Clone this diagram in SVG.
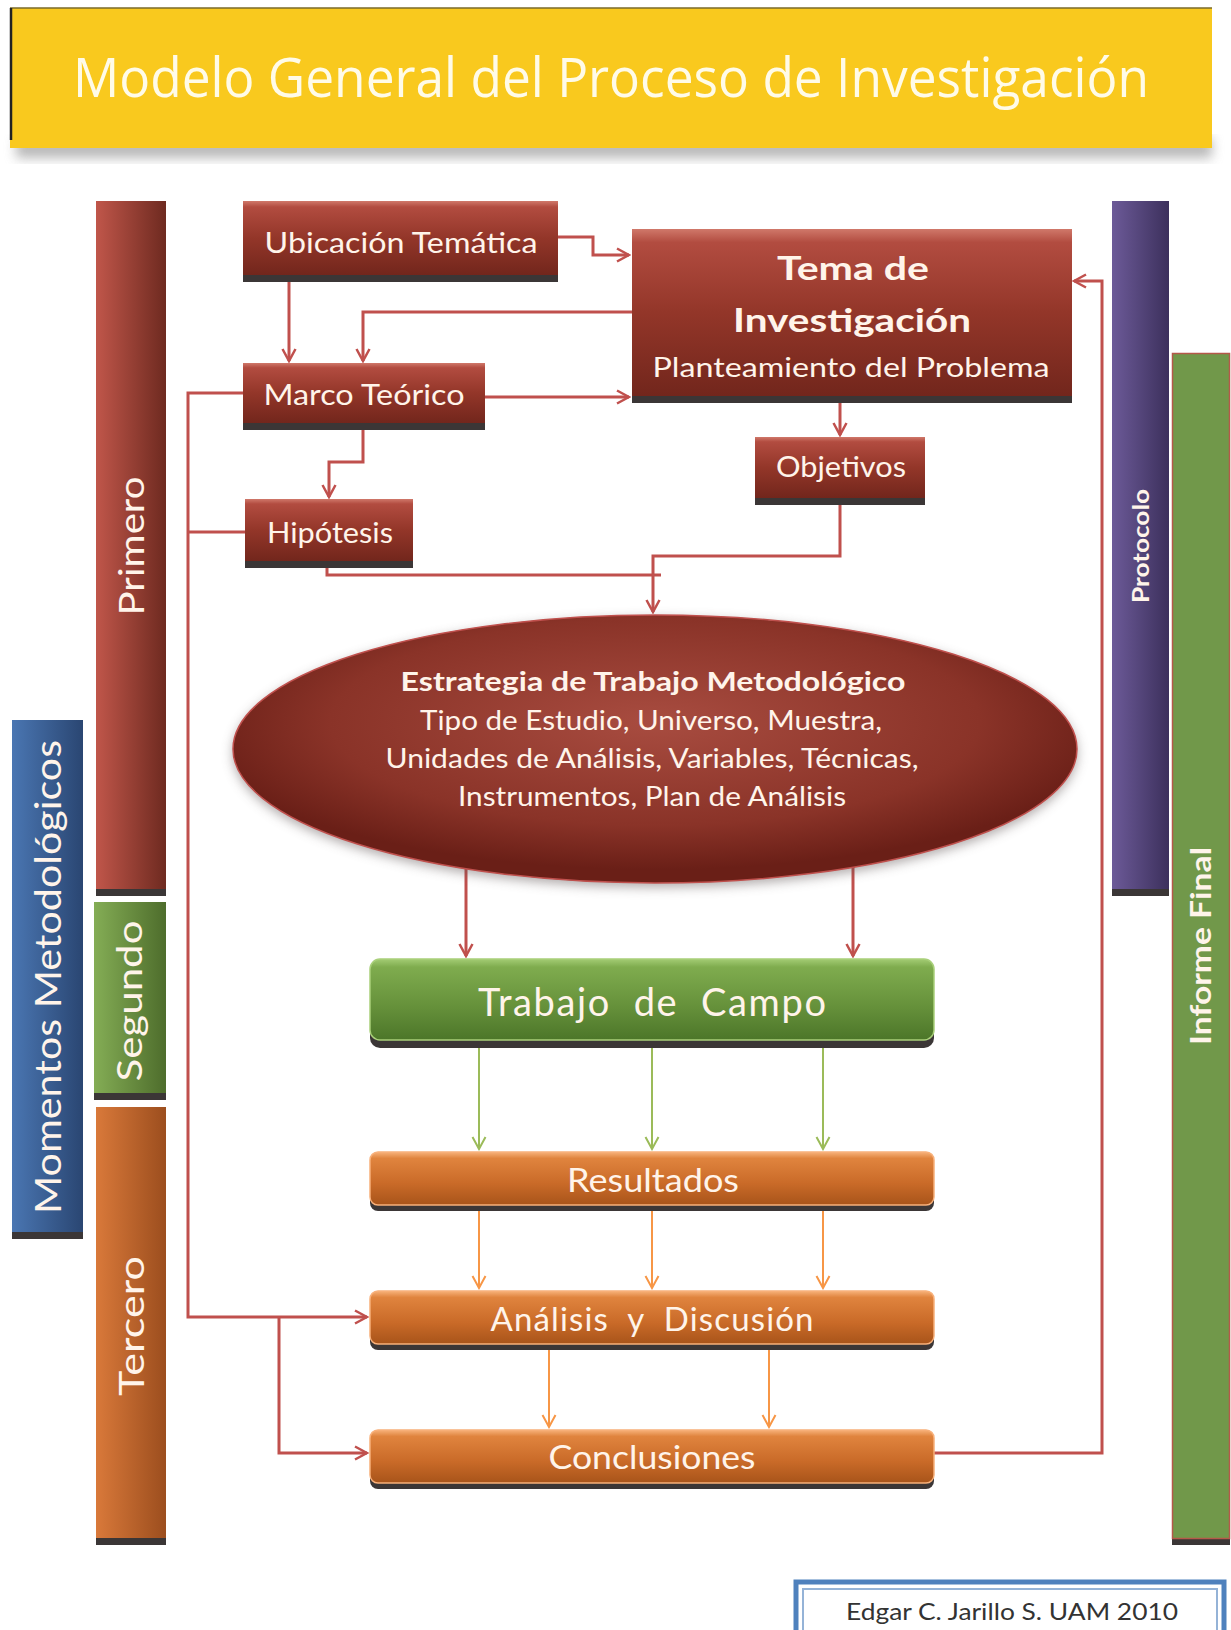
<svg xmlns="http://www.w3.org/2000/svg" width="1231" height="1630" viewBox="0 0 1231 1630">
<style>
.t{font-family:Lato,"Open Sans","Liberation Sans",sans-serif;fill:#fff4ea;text-anchor:middle}
.b{font-weight:bold}
.pre{white-space:pre}
.c{fill:none;stroke:#c0504d;stroke-width:3}
.cg{fill:none;stroke:#9bbb59;stroke-width:2}
.co{fill:none;stroke:#f79646;stroke-width:2}
.sh{fill:#3b3636}
</style>
<defs>
<linearGradient id="gRed" x1="0" y1="0" x2="0" y2="1">
<stop offset="0" stop-color="#d0786a"/><stop offset="0.08" stop-color="#b24c40"/><stop offset="0.5" stop-color="#933629"/><stop offset="1" stop-color="#72261c"/>
</linearGradient>
<linearGradient id="gGreen" x1="0" y1="0" x2="0" y2="1">
<stop offset="0" stop-color="#a3cc74"/><stop offset="0.1" stop-color="#7fac4e"/><stop offset="0.6" stop-color="#65903a"/><stop offset="1" stop-color="#4c7629"/>
</linearGradient>
<linearGradient id="gOr" x1="0" y1="0" x2="0" y2="1">
<stop offset="0" stop-color="#f7b27a"/><stop offset="0.12" stop-color="#e0843e"/><stop offset="0.6" stop-color="#c96a28"/><stop offset="1" stop-color="#a8541a"/>
</linearGradient>
<linearGradient id="hRed" x1="0" y1="0" x2="1" y2="0">
<stop offset="0" stop-color="#c0564a"/><stop offset="1" stop-color="#6e2a20"/>
</linearGradient>
<linearGradient id="hGreen" x1="0" y1="0" x2="1" y2="0">
<stop offset="0" stop-color="#84ad55"/><stop offset="1" stop-color="#4e6d2c"/>
</linearGradient>
<linearGradient id="hOr" x1="0" y1="0" x2="1" y2="0">
<stop offset="0" stop-color="#d9793a"/><stop offset="1" stop-color="#9c4e1e"/>
</linearGradient>
<linearGradient id="hBlue" x1="0" y1="0" x2="1" y2="0">
<stop offset="0" stop-color="#4a76b2"/><stop offset="1" stop-color="#2a4672"/>
</linearGradient>
<linearGradient id="hPur" x1="0" y1="0" x2="1" y2="0">
<stop offset="0" stop-color="#6c5a98"/><stop offset="1" stop-color="#3c305c"/>
</linearGradient>
<radialGradient id="gEll" cx="0.5" cy="0.4" r="0.55">
<stop offset="0" stop-color="#a84c40"/><stop offset="0.7" stop-color="#8a3328"/><stop offset="1" stop-color="#6a1f17"/>
</radialGradient>
<filter id="blur" x="-5%" y="-20%" width="110%" height="150%"><feGaussianBlur stdDeviation="6"/></filter>
<marker id="ar" viewBox="0 0 16 16" refX="14" refY="8" markerWidth="16" markerHeight="16" orient="auto" markerUnits="userSpaceOnUse"><path d="M2,1.5 L14,8 L2,14.5" fill="none" stroke="#c0504d" stroke-width="2.5"/></marker>
<marker id="ag" viewBox="0 0 16 16" refX="14" refY="8" markerWidth="16" markerHeight="16" orient="auto" markerUnits="userSpaceOnUse"><path d="M2,1.5 L14,8 L2,14.5" fill="none" stroke="#9bbb59" stroke-width="2"/></marker>
<marker id="ao" viewBox="0 0 16 16" refX="14" refY="8" markerWidth="16" markerHeight="16" orient="auto" markerUnits="userSpaceOnUse"><path d="M2,1.5 L14,8 L2,14.5" fill="none" stroke="#f79646" stroke-width="2"/></marker>
</defs>
<rect width="1231" height="1630" fill="#ffffff"/>

<g id="title">
<rect x="16" y="138" width="1196" height="20" fill="#8a8a8a" opacity="0.6" filter="url(#blur)"/>
<rect x="10" y="8" width="1202" height="140" fill="#f9c91e"/>
<line x1="10" y1="8" x2="1212" y2="8" stroke="#7a6a2a" stroke-width="1.5"/>
<line x1="11" y1="8" x2="11" y2="140" stroke="#222" stroke-width="2.5"/>
<text x="611" y="97" font-family="'Open Sans',Lato,sans-serif" font-size="54" fill="#fffbe8" text-anchor="middle" textLength="1076" lengthAdjust="spacingAndGlyphs">Modelo General del Proceso de Investigación</text>
</g>

<g id="momentos">
<rect x="12" y="1232" width="71" height="7" class="sh"/>
<rect x="12" y="720" width="71" height="512" fill="url(#hBlue)"/>
<text class="t" font-size="36" transform="translate(61,977) rotate(-90)" textLength="474" lengthAdjust="spacingAndGlyphs">Momentos Metodológicos</text>
</g>
<g id="primero">
<rect x="96" y="889" width="70" height="7" class="sh"/>
<rect x="96" y="201" width="70" height="688" fill="url(#hRed)"/>
<text class="t" font-size="34" transform="translate(144,546) rotate(-90)" textLength="139" lengthAdjust="spacingAndGlyphs">Primero</text>
</g>
<g id="segundo">
<rect x="94" y="1093" width="72" height="7" class="sh"/>
<rect x="94" y="902" width="72" height="191" fill="url(#hGreen)"/>
<text class="t" font-size="34" transform="translate(142,1001) rotate(-90)" textLength="161" lengthAdjust="spacingAndGlyphs">Segundo</text>
</g>
<g id="tercero">
<rect x="96" y="1538" width="70" height="7" class="sh"/>
<rect x="96" y="1107" width="70" height="431" fill="url(#hOr)"/>
<text class="t" font-size="34" transform="translate(144,1326) rotate(-90)" textLength="140" lengthAdjust="spacingAndGlyphs">Tercero</text>
</g>
<g id="protocolo">
<rect x="1112" y="889" width="57" height="7" class="sh"/>
<rect x="1112" y="201" width="57" height="688" fill="url(#hPur)"/>
<text class="t b" font-size="22" transform="translate(1149,546) rotate(-90)" textLength="114" lengthAdjust="spacingAndGlyphs">Protocolo</text>
</g>
<g id="informe">
<rect x="1172" y="1538" width="58" height="7" class="sh"/>
<rect x="1172.5" y="353.5" width="57" height="1185" fill="#71984a" stroke="#b5584a" stroke-width="1.5"/>
<text class="t b" font-size="28" transform="translate(1211,946) rotate(-90)" textLength="198" lengthAdjust="spacingAndGlyphs">Informe Final</text>
</g>

<g id="connectors">
<path class="c" d="M558,237 H593 V255 H629" marker-end="url(#ar)"/>
<path class="c" d="M289,282 V361" marker-end="url(#ar)"/>
<path class="c" d="M632,312 H363 V361" marker-end="url(#ar)"/>
<path class="c" d="M485,397 H629" marker-end="url(#ar)"/>
<path class="c" d="M840,403 V435" marker-end="url(#ar)"/>
<path class="c" d="M363,430 V462 H329 V497" marker-end="url(#ar)"/>
<path class="c" d="M840,505 V556 H653 V612" marker-end="url(#ar)"/>
<path class="c" d="M327,567 V575 H661"/>
<path class="c" d="M243,393 H188 V1317 H367" marker-end="url(#ar)"/>
<path class="c" d="M246,532 H188"/>
<path class="c" d="M279,1317 V1453 H367" marker-end="url(#ar)"/>
<path class="c" d="M934,1453 H1102 V281 H1074" marker-end="url(#ar)"/>
<path class="c" d="M466,869 V956" stroke-width="2" marker-end="url(#ar)"/>
<path class="c" d="M853,867 V956" stroke-width="2" marker-end="url(#ar)"/>
<path class="cg" d="M479,1048 V1149" marker-end="url(#ag)"/>
<path class="cg" d="M652,1048 V1149" marker-end="url(#ag)"/>
<path class="cg" d="M823,1048 V1149" marker-end="url(#ag)"/>
<path class="co" d="M479,1211 V1288" marker-end="url(#ao)"/>
<path class="co" d="M652,1211 V1288" marker-end="url(#ao)"/>
<path class="co" d="M823,1211 V1288" marker-end="url(#ao)"/>
<path class="co" d="M549,1350 V1427" marker-end="url(#ao)"/>
<path class="co" d="M769,1350 V1427" marker-end="url(#ao)"/>
</g>

<g id="ubicacion">
<rect x="243" y="274" width="315" height="8" class="sh"/>
<rect x="243" y="201" width="315" height="74" fill="url(#gRed)"/>
<text class="t" x="401" y="253" font-size="28" textLength="273" lengthAdjust="spacingAndGlyphs">Ubicación Temática</text>
</g>
<g id="tema">
<rect x="632" y="395" width="440" height="8" class="sh"/>
<rect x="632" y="229" width="440" height="167" fill="url(#gRed)"/>
<text class="t b" x="853" y="280" font-size="33" textLength="152" lengthAdjust="spacingAndGlyphs">Tema de</text>
<text class="t b" x="852" y="332" font-size="33" textLength="238" lengthAdjust="spacingAndGlyphs">Investigación</text>
<text class="t" x="851" y="377" font-size="27" textLength="397" lengthAdjust="spacingAndGlyphs">Planteamiento del Problema</text>
</g>
<g id="marco">
<rect x="243" y="422" width="242" height="8" class="sh"/>
<rect x="243" y="363" width="242" height="60" fill="url(#gRed)"/>
<text class="t" x="364" y="405" font-size="28" textLength="201" lengthAdjust="spacingAndGlyphs">Marco Teórico</text>
</g>
<g id="hipotesis">
<rect x="245" y="560" width="168" height="8" class="sh"/>
<rect x="245" y="499" width="168" height="62" fill="url(#gRed)"/>
<text class="t" x="330" y="543" font-size="28" textLength="126" lengthAdjust="spacingAndGlyphs">Hipótesis</text>
</g>
<g id="objetivos">
<rect x="755" y="497" width="170" height="8" class="sh"/>
<rect x="755" y="437" width="170" height="61" fill="url(#gRed)"/>
<text class="t" x="841" y="477" font-size="28" textLength="130" lengthAdjust="spacingAndGlyphs">Objetivos</text>
</g>

<g id="estrategia">
<ellipse cx="655" cy="753" rx="422" ry="134" fill="#5a5050" opacity="0.5" filter="url(#blur)"/>
<ellipse cx="655" cy="749" rx="422" ry="134" fill="url(#gEll)" stroke="#c0504d" stroke-width="1.5"/>
<text class="t b" x="653" y="691" font-size="26" textLength="505" lengthAdjust="spacingAndGlyphs">Estrategia de Trabajo Metodológico</text>
<text class="t" x="651" y="730" font-size="26" textLength="462" lengthAdjust="spacingAndGlyphs">Tipo de Estudio, Universo, Muestra,</text>
<text class="t" x="652" y="768" font-size="26" textLength="533" lengthAdjust="spacingAndGlyphs">Unidades de Análisis, Variables, Técnicas,</text>
<text class="t" x="652" y="806" font-size="26" textLength="388" lengthAdjust="spacingAndGlyphs">Instrumentos, Plan de Análisis</text>
</g>

<g id="trabajo">
<rect x="370" y="964" width="564" height="84" rx="10" class="sh"/>
<rect x="370" y="959" width="564" height="81" rx="10" fill="url(#gGreen)" stroke="#a9d07a" stroke-width="1.5"/>
<text class="t pre" x="652" y="1016" font-size="38" textLength="348" lengthAdjust="spacing">Trabajo  de  Campo</text>
</g>
<g id="resultados">
<rect x="370" y="1157" width="564" height="54" rx="8" class="sh"/>
<rect x="370" y="1152" width="564" height="53" rx="8" fill="url(#gOr)" stroke="#f8b07a" stroke-width="1.5"/>
<text class="t" x="653" y="1192" font-size="33" textLength="172" lengthAdjust="spacingAndGlyphs">Resultados</text>
</g>
<g id="analisis">
<rect x="370" y="1296" width="564" height="54" rx="8" class="sh"/>
<rect x="370" y="1291" width="564" height="53" rx="8" fill="url(#gOr)" stroke="#f8b07a" stroke-width="1.5"/>
<text class="t pre" x="652" y="1331" font-size="33" textLength="323" lengthAdjust="spacing">Análisis  y  Discusión</text>
</g>
<g id="conclusiones">
<rect x="370" y="1435" width="564" height="54" rx="8" class="sh"/>
<rect x="370" y="1430" width="564" height="53" rx="8" fill="url(#gOr)" stroke="#f8b07a" stroke-width="1.5"/>
<text class="t" x="652" y="1469" font-size="33" textLength="207" lengthAdjust="spacingAndGlyphs">Conclusiones</text>
</g>

<g id="credito">
<rect x="796" y="1582" width="428" height="60" fill="#ffffff" stroke="#4f81bd" stroke-width="5"/>
<rect x="803" y="1589" width="414" height="50" fill="none" stroke="#95b3d7" stroke-width="2"/>
<text x="1012" y="1620" font-family="Lato,'Open Sans',sans-serif" font-size="24" fill="#333333" text-anchor="middle" textLength="332" lengthAdjust="spacingAndGlyphs">Edgar C. Jarillo S. UAM 2010</text>
</g>
</svg>
